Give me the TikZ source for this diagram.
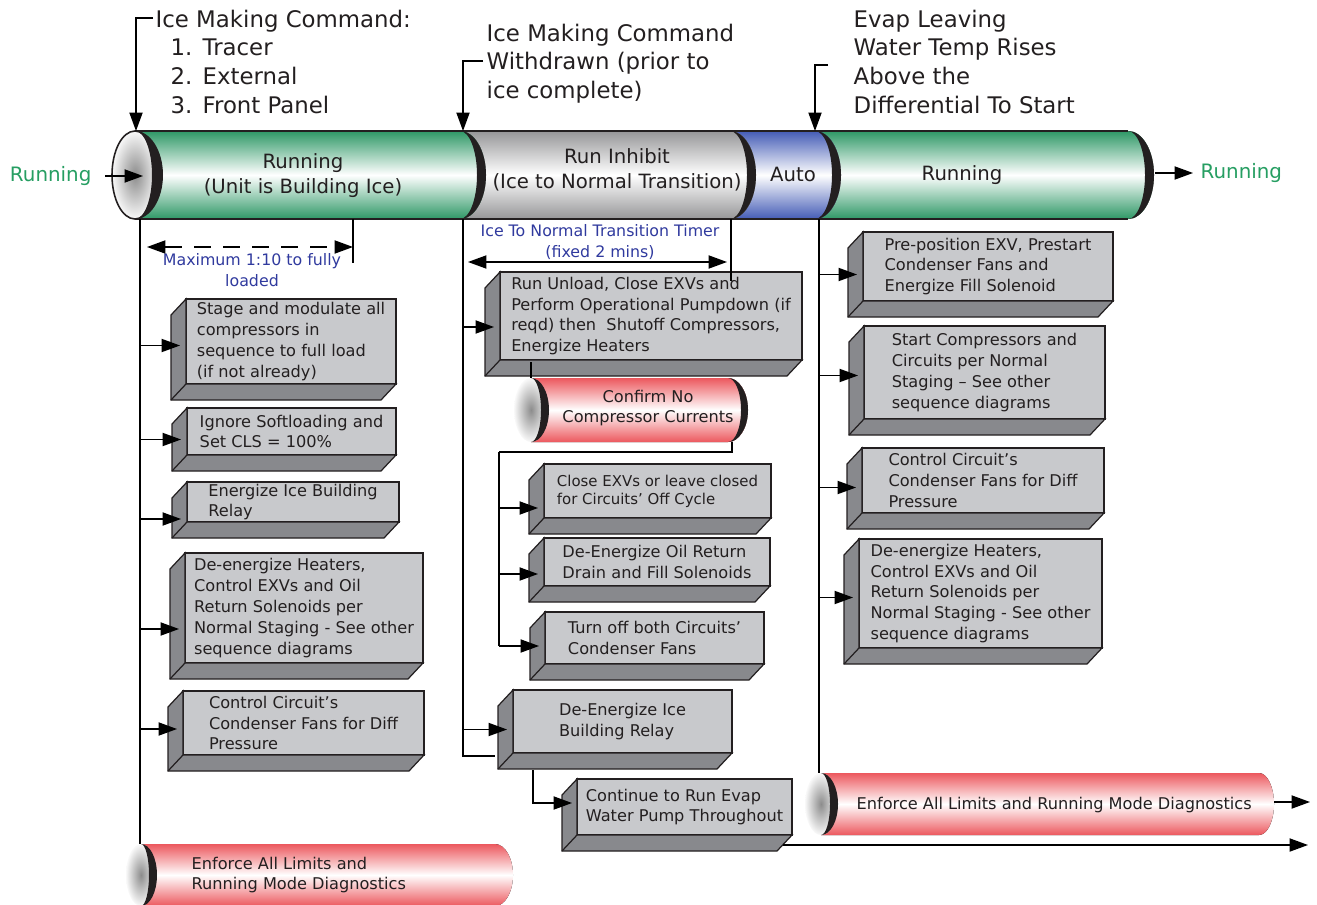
\documentclass[tikz,border=0pt]{standalone}
\usepackage{fontspec}
\setmainfont{DejaVu Sans}
\usetikzlibrary{arrows.meta,calc,positioning}
\definecolor{barGreen}{RGB}{46,152,102}
\definecolor{barGray}{RGB}{150,150,152}
\definecolor{barBlue}{RGB}{68,92,182}
\definecolor{cylRed}{RGB}{236,88,94}
\definecolor{faceFront}{RGB}{200,201,204}
\definecolor{faceSide}{RGB}{136,137,141}
\definecolor{noteBlue}{RGB}{48,58,158}
\definecolor{stateGreen}{RGB}{38,158,98}
\definecolor{ink}{RGB}{35,31,32}
\tikzset{
  >={Triangle[length=10.5pt,width=7.5pt]},
  every node/.style={font=\fontsize{9.2}{11.9}\selectfont, text=ink},
  actbox/.style={draw=ink, fill=faceFront, line width=0.7pt, align=left,
    inner sep=0pt, outer sep=0pt, anchor=north west},
  boxsize/.style 2 args={minimum width=#1*0.02cm, minimum height=#2*0.02cm},
  barlabel/.style={font=\fontsize{11.2}{14.2}\selectfont, align=center},
  statelabel/.style={font=\fontsize{11.3}{14}\selectfont, text=stateGreen, inner sep=0pt},
  toplabel/.style={font=\fontsize{13}{16.4}\selectfont, align=left,
    anchor=north west, inner sep=0pt},
  note/.style={font=\fontsize{9}{11.9}\selectfont, text=noteBlue, align=center},
}
% one coloured stretch of the state bar, with its dark rim on the right
\newcommand\barseg[3]{%
  \fill[top color=#3, bottom color=#3, middle color=white]
    (#1,131) -- (#2,131) arc[start angle=-90,end angle=90,x radius=26,y radius=44]
    -- (#1,219) -- cycle;
  \fill[ink] (#2,131) arc[start angle=-90,end angle=90,x radius=26,y radius=44]
    arc[start angle=90,end angle=-90,x radius=17,y radius=44];
}
% red pipe: cap x, top y, bottom y, end x, end radius, cap radius
\newcommand\redcyl[6]{%
  \fill[top color=cylRed, bottom color=cylRed, middle color=white]
    (#1,#2) -- (#4,#2) arc[start angle=-90,end angle=90,x radius=#5,y radius={(#3-#2)/2}]
    -- (#1,#3) -- cycle;
  \shade[inner color=gray!90, outer color=gray!5]
    (#1,{(#2+#3)/2}) ellipse[x radius=#6, y radius={(#3-#2)/2}];
  \fill[ink] (#1,#2) arc[start angle=-90,end angle=90,x radius=#6+1,y radius={(#3-#2)/2}]
    arc[start angle=90,end angle=-90,x radius=#6-7,y radius={(#3-#2)/2}];
}
% side and bottom faces of a step box
\newcommand\faces[1]{%
  \filldraw[fill=faceSide, draw=ink, line width=0.7pt]
    (#1.north west) -- ++(-15,16) -- ($(#1.south west)+(-15,16)$)
    -- ($(#1.south east)+(-15,16)$) -- (#1.south east) -- (#1.south west) -- cycle;
  \draw[ink, line width=0.7pt] (#1.south west) -- ++(-15,16);
}

\begin{document}
\begin{tikzpicture}[x=0.02cm,y=-0.02cm,line width=0.75pt]
  \useasboundingbox (0,0) rectangle (1317,905);

  % state bar
  \barseg{815}{1128}{barGreen}
  \barseg{730}{815}{barBlue}
  \barseg{460}{730}{barGray}
  \barseg{135}{460}{barGreen}
  \draw[ink, line width=0.9pt] (135,131) -- (1128,131) (135,219) -- (1128,219);
  \shadedraw[inner color=gray!90, outer color=gray!5, draw=ink, line width=0.9pt]
    (135,175) ellipse[x radius=23, y radius=44];
  \fill[ink] (135,131) arc[start angle=-90,end angle=90,x radius=28,y radius=44]
    arc[start angle=90,end angle=-90,x radius=17,y radius=44];

  \node[barlabel] (seg1) at (303,176) {Running\\(Unit is Building Ice)};
  \node[barlabel] (seg2) at (617,170) {Run Inhibit\\(Ice to Normal Transition)};
  \node[barlabel] (seg3) at (793,174) {Auto};
  \node[barlabel] (seg4) at (962,175) {Running};

  \node[statelabel, anchor=east] (runIn) at (92,176) {Running};
  \node[statelabel, anchor=west] (runOut) at (1200,173) {Running};
  \coordinate (capIn) at (143,176);
  \coordinate (barEnd) at (1155,173);

  % events
  \node[toplabel] (cmdOn) at (155,9) {Ice Making Command:\\
    \hspace*{0.3cm}\makebox[0.64cm][l]{1.}Tracer\\
    \hspace*{0.3cm}\makebox[0.64cm][l]{2.}External\\
    \hspace*{0.3cm}\makebox[0.64cm][l]{3.}Front Panel};
  \node[toplabel] (cmdOff) at (486,23) {Ice Making Command\\Withdrawn (prior to\\ice complete)};
  \node[toplabel] (tempUp) at (853,9) {Evap Leaving\\Water Temp Rises\\Above the\\Differential To Start};
  \coordinate (tkOn) at (136,131);
  \coordinate (tkOff) at (463,131);
  \coordinate (tkAuto) at (815,131);

  % timelines
  \coordinate (tlRun) at (140,219);
  \coordinate (tlInh) at (463,219);
  \coordinate (tlAuto) at (819,219);

  % notes
  \node[note] (maxLoad) at (252,270) {Maximum 1:10 to fully\\loaded};
  \node[note] (timer) at (600,242) {Ice To Normal Transition Timer\\(fixed 2 mins)};
  \coordinate (loadL) at (147,247);
  \coordinate (loadR) at (353,247);
  \coordinate (timerL) at (468,262);
  \coordinate (timerR) at (727,262);

  % pipes
  \redcyl{531}{378}{442}{728}{20}{17}
  \fill[ink] (728,378) arc[start angle=-90,end angle=90,x radius=20,y radius=32]
    arc[start angle=90,end angle=-90,x radius=13,y radius=32];
  \redcyl{141}{844}{906}{495}{18}{15}
  \redcyl{821}{773}{835}{1259}{15}{16}
  \node[align=center] (noAmps) at (648,408) {Confirm No\\Compressor Currents};
  \node[anchor=west, align=left, inner sep=0pt] (limitsL) at (191,875)
    {Enforce All Limits and\\Running Mode Diagnostics};
  \node[anchor=west, inner sep=0pt] (limitsR) at (856,805)
    {Enforce All Limits and Running Mode Diagnostics};
  \coordinate (cfTop) at (531,378);
  \coordinate (cfBot) at (732,442);
  \coordinate (cfBus) at (499,452);
  \coordinate (limLTop) at (140,844);
  \coordinate (limRTop) at (819,773);
  \coordinate (limOut) at (1274,802);
  \coordinate (pumpEnd) at (1308,845);

  % steps while running
  \node[actbox, boxsize={210}{85}] (b1) at (186,299)
    {Stage and modulate all\\compressors in\\sequence to full load\\(if not already)};
  \node[actbox, boxsize={209}{47}] (b2) at (187,408)
    {Ignore Softloading and\\Set CLS = 100\%};
  \node[actbox, boxsize={212}{40}] (b3) at (187,482)
    {Energize Ice Building\\Relay};
  \node[actbox, boxsize={238}{110}] (b4) at (185,553)
    {De-energize Heaters,\\Control EXVs and Oil\\Return Solenoids per\\Normal Staging - See other\\sequence diagrams};
  \node[actbox, boxsize={241}{64}] (b5) at (183,691)
    {Control Circuit's\\Condenser Fans for Diff\\Pressure};

  % steps in run inhibit
  \node[actbox, boxsize={302}{88}] (m1) at (500,272)
    {Run Unload, Close EXVs and\\Perform Operational Pumpdown (if\\reqd) then\ \ Shutoff Compressors,\\Energize Heaters};
  \node[actbox, boxsize={227}{54}, font=\fontsize{8.5}{10.2}\selectfont] (m2) at (544,464)
    {Close EXVs or leave closed\\for Circuits' Off Cycle};
  \node[actbox, boxsize={226}{48}] (m3) at (544,538)
    {De-Energize Oil Return\\Drain and Fill Solenoids};
  \node[actbox, boxsize={219}{52}] (m4) at (545,612)
    {Turn off both Circuits'\\Condenser Fans};
  \node[actbox, boxsize={219}{63}] (m5) at (513,690)
    {De-Energize Ice\\Building Relay};
  \node[actbox, boxsize={215}{56}] (m6) at (577,779)
    {Continue to Run Evap\\Water Pump Throughout};

  % steps on auto restart
  \node[actbox, boxsize={250}{69}] (r1) at (863,232)
    {Pre-position EXV, Prestart\\Condenser Fans and\\Energize Fill Solenoid};
  \node[actbox, boxsize={241}{93}] (r2) at (864,326)
    {Start Compressors and\\Circuits per Normal\\Staging -- See other\\sequence diagrams};
  \node[actbox, boxsize={242}{65}] (r3) at (862,448)
    {Control Circuit's\\Condenser Fans for Diff\\Pressure};
  \node[actbox, boxsize={243}{109}] (r4) at (859,539)
    {De-energize Heaters,\\Control EXVs and Oil\\Return Solenoids per\\Normal Staging - See other\\sequence diagrams};

  \foreach \b in {b1,b2,b3,b4,b5,m1,m2,m3,m4,m5,m6,r1,r2,r3,r4}
    \faces{\b};

  % connectors
  \draw[->] ($(runIn.east)+(13,0)$) -- (capIn);
  \draw[->] (barEnd) -- ($(runOut.west)+(-7,0)$);
  \draw[->] ($(cmdOn.north west)+(-2,9)$) -| (tkOn);
  \draw[->] ($(cmdOff.north west)+(-3,38)$) -| (tkOff);
  \draw[->] ($(tempUp.north west)+(-25,56)$) -| (tkAuto);

  \draw (tlRun) -- (limLTop);
  \draw (tlInh) |- ($(m5.south west)+(-18,3)$);
  \draw (tlAuto) -- (limRTop);

  \draw[<->, dash pattern=on 0.34cm off 0.24cm] (loadL) -- (loadR);
  \draw (loadR |- tlRun) -- ++(0,44);
  \draw[<->] (timerL) -- (timerR);
  \draw ($(timerR |- tlInh)+(4,0)$) -- ++(0,62);

  \draw ($(m1.south west)+(31,2)$) -- (cfTop);
  \draw (cfBot) |- (cfBus);
  \draw (cfBus) -- ($(cfBus |- m4.west)+(0,8)$);
  \draw[->] ($(m5.south west)+(20,17)$) |- ($(m6.west)+(-5,-4)$);
  \draw[->] ($(m6.south east)+(-9,10)$) -- (pumpEnd);
  \draw[->] (limOut) -- ++(36,0);

  \foreach \src/\b/\dy in {tlRun/b1/4, tlRun/b2/8, tlRun/b3/17, tlRun/b4/21, tlRun/b5/6,
      tlInh/m1/11, tlInh/m5/8, cfBus/m2/17, cfBus/m3/12, cfBus/m4/8,
      tlAuto/r1/8, tlAuto/r2/3, tlAuto/r3/7, tlAuto/r4/4}
    \draw[->] ($(\b.west -| \src)+(0,\dy)$) -- ($(\b.west)+(-6,\dy)$);
\end{tikzpicture}
\end{document}
